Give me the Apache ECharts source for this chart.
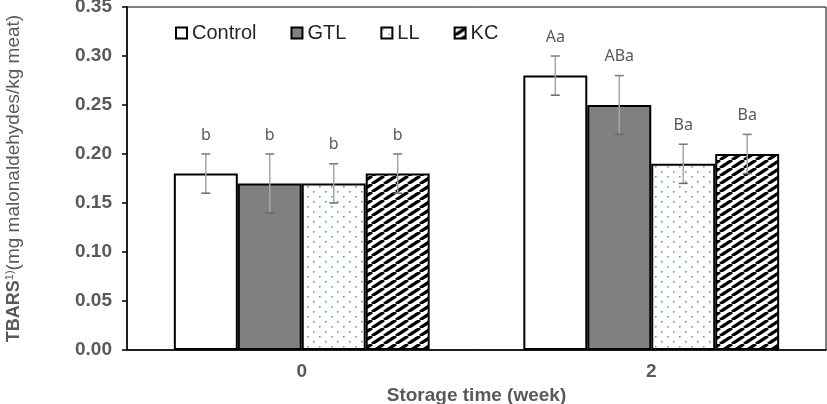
<!DOCTYPE html>
<html>
<head>
<meta charset="utf-8">
<script src="https://cdn.jsdelivr.net/npm/echarts@6/dist/echarts.min.js"></script>
<style>
html,body{margin:0;padding:0;background:#fff;}
#chart{width:827px;height:404px;}
</style>
</head>
<body>
<div id="chart"></div>
<script>
// ---- data ----
var categories = ['0', '2'];
var seriesNames = ['Control', 'GTL', 'LL', 'KC'];
var controlValues = [0.18, 0.28];
var gtlValues = [0.17, 0.25];
var llValues = [0.17, 0.19];
var kcValues = [0.18, 0.20];
var controlErrors = [0.02, 0.02];
var gtlErrors = [0.03, 0.03];
var llErrors = [0.02, 0.02];
var kcErrors = [0.02, 0.02];
var controlLetters = ['b', 'Aa'];
var gtlLetters = ['b', 'ABa'];
var llLetters = ['b', 'Ba'];
var kcLetters = ['b', 'Ba'];
var yMin = 0, yMax = 0.35, yStep = 0.05;

// ---- patterns ----
function makeDots() {
  var c = document.createElement('canvas');
  c.width = 12; c.height = 10;
  var g = c.getContext('2d');
  g.fillStyle = '#ffffff'; g.fillRect(0, 0, 12, 10);
  g.fillStyle = '#5b9bd5';
  g.fillRect(1, 1, 1.6, 1.6);
  g.fillRect(7, 6, 1.6, 1.6);
  return c;
}
function makeStripes() {
  var w = 12, h = 8;
  var c = document.createElement('canvas');
  c.width = w; c.height = h;
  var g = c.getContext('2d');
  g.fillStyle = '#ffffff'; g.fillRect(0, 0, w, h);
  g.strokeStyle = '#000000'; g.lineWidth = 3.2;
  for (var k = -1; k <= 1; k++) {
    g.beginPath();
    g.moveTo(k * w, h);
    g.lineTo((k + 1) * w, 0);
    g.stroke();
  }
  return c;
}
var fills = [
  '#ffffff',
  '#808080',
  { image: makeDots(), repeat: 'repeat' },
  { image: makeStripes(), repeat: 'repeat' }
];

var valueSets = [controlValues, gtlValues, llValues, kcValues];
var errorSets = [controlErrors, gtlErrors, llErrors, kcErrors];
var letterSets = [controlLetters, gtlLetters, llLetters, kcLetters];
var gapRatio = 0.268;
var nBars = seriesNames.length;
var FONT = '"Liberation Sans", Arial, sans-serif';

var series = [];
seriesNames.forEach(function (name, i) {
  series.push({
    name: name,
    type: 'bar',
    data: valueSets[i],
    barCategoryGap: (gapRatio * 100) + '%',
    barGap: '0%',
    itemStyle: { color: fills[i], borderColor: '#000', borderWidth: 2 },
    z: 2
  });
});
seriesNames.forEach(function (name, i) {
  var data = categories.map(function (c, j) {
    return [j, valueSets[i][j], errorSets[i][j], letterSets[i][j]];
  });
  series.push({
    name: name + '_err',
    type: 'custom',
    data: data,
    encode: { x: 0, y: 1 },
    z: 5,
    clip: false,
    silent: true,
    renderItem: function (params, api) {
      var idx = api.value(0), v = api.value(1), e = api.value(2);
      var letter = data[params.dataIndex][3];
      var band = api.size([1, 0])[0];
      var bw = band * (1 - gapRatio) / nBars;
      var center = api.coord([idx, v]);
      var x = center[0] + (i - (nBars - 1) / 2) * bw;
      var top = api.coord([idx, v + e])[1];
      var bot = api.coord([idx, v - e])[1];
      var cap = 4.5;
      return {
        type: 'group',
        children: [
          { type: 'line', shape: { x1: x, y1: top, x2: x, y2: bot },
            style: { stroke: '#a6a6a6', lineWidth: 1.5 } },
          { type: 'line', shape: { x1: x - cap, y1: top, x2: x + cap, y2: top },
            style: { stroke: '#7a7a7a', lineWidth: 1.5 } },
          { type: 'line', shape: { x1: x - cap, y1: bot, x2: x + cap, y2: bot },
            style: { stroke: '#6a6a6a', lineWidth: 1.5 } },
          { type: 'text', x: x, y: top - 19,
            style: { text: letter, align: 'center', verticalAlign: 'middle',
              fill: '#595959', font: '16px "Noto Sans", sans-serif' } }
        ]
      };
    }
  });
});

var chart = echarts.init(document.getElementById('chart'), null, { renderer: 'canvas' });
chart.setOption({
  animation: false,
  backgroundColor: '#ffffff',
  grid: { left: 127, right: 1, top: 7, bottom: 54, containLabel: false, outerBoundsMode: 'none',
    show: true, borderColor: '#000', borderWidth: 1, backgroundColor: 'transparent' },
  legend: {
    data: seriesNames,
    left: 175, top: 23,
    padding: 0,
    itemWidth: 11, itemHeight: 11, itemGap: 34,
    icon: 'rect',
    textStyle: { fontSize: 20, fontFamily: FONT, color: '#262626' }
  },
  xAxis: {
    type: 'category',
    data: categories,
    axisLine: { lineStyle: { color: '#000', width: 1.5 } },
    axisTick: { show: false },
    axisLabel: { margin: 12, fontSize: 19, fontWeight: 'bold', color: '#595959', fontFamily: FONT },
    name: 'Storage time (week)',
    nameLocation: 'middle',
    nameGap: 35,
    nameTextStyle: { fontSize: 19, fontWeight: 'bold', color: '#595959', fontFamily: FONT }
  },
  yAxis: {
    type: 'value',
    min: yMin, max: yMax, interval: yStep,
    axisLine: { show: true, lineStyle: { color: '#000', width: 1.5 } },
    axisTick: { show: true, length: 5, lineStyle: { color: '#000', width: 1.5 } },
    splitLine: { show: false },
    axisLabel: { margin: 15, fontSize: 19, fontWeight: 'bold', color: '#595959', fontFamily: FONT,
      formatter: function (v) { return v.toFixed(2); } },
    name: '{b|TBARS}{s|1)}{n|(mg malonaldehydes/kg meat)}',
    nameLocation: 'middle',
    nameGap: 103,
    nameTextStyle: {
      color: '#595959', fontFamily: FONT,
      rich: {
        b: { fontSize: 18, fontWeight: 'bold', color: '#595959', fontFamily: FONT },
        s: { fontSize: 11, color: '#595959', padding: [0, 0, 9, 0], fontFamily: FONT },
        n: { fontSize: 19, fontWeight: 'normal', color: '#595959', fontFamily: FONT }
      }
    }
  },
  series: series
});
</script>
</body>
</html>
